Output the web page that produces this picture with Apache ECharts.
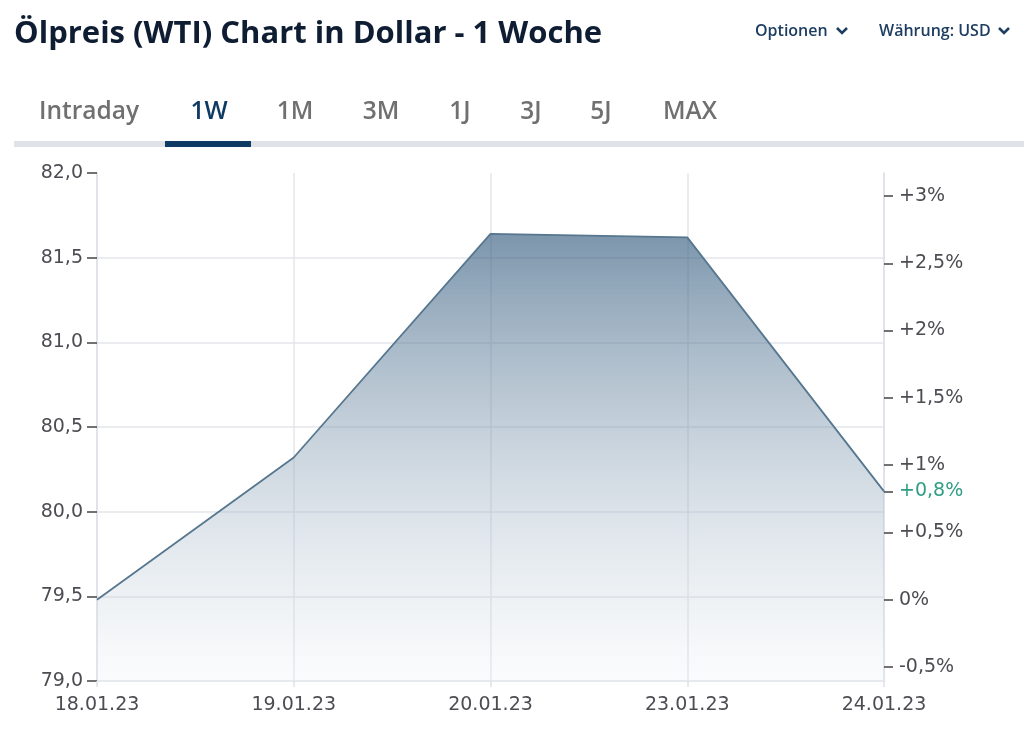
<!DOCTYPE html>
<html>
<head>
<meta charset="utf-8">
<script src="https://cdn.jsdelivr.net/npm/echarts@6/dist/echarts.min.js"></script>
<style>
html,body{margin:0;padding:0;background:#fff;}
#chart{width:1024px;height:746px;}
</style>
</head>
<body>
<div id="chart"></div>
<script>
const title = 'Ölpreis (WTI) Chart in Dollar - 1 Woche';
const tabs = ['Intraday', '1W', '1M', '3M', '1J', '3J', '5J', 'MAX'];
const dates = ['18.01.23', '19.01.23', '20.01.23', '23.01.23', '24.01.23'];
const prices = [79.48, 80.32, 81.64, 81.62, 80.12];
const priceTicks = [79.0, 79.5, 80.0, 80.5, 81.0, 81.5, 82.0];
const percentTicks = [-0.5, 0, 0.5, 1, 1.5, 2, 2.5, 3];

const base = prices[0];
const last = prices[prices.length - 1];
const rightValues = percentTicks.map(p => base * (1 + p / 100)).concat([last]);

function fmtPct(p) {
  const s = (Math.abs(p) < 1e-9 ? '0' : String(p)).replace('.', ',');
  return (p > 1e-9 ? '+' : '') + s + '%';
}

const chart = echarts.init(document.getElementById('chart'));
const LBL = 'Verdana, "DejaVu Sans"';
const tabX = [89, 209, 295, 381, 460, 531, 601, 690];

const graphics = [
  {type: 'text', x: 14, y: 34, style: {text: title, font: 'bold 31px "Open Sans"', fill: '#0f1d33', textVerticalAlign: 'middle'}},
  {type: 'text', x: 755, y: 31, style: {text: 'Optionen', font: '600 16px "Open Sans"', fill: '#1d3d62', textVerticalAlign: 'middle'}},
  {type: 'polyline', shape: {points: [[837, 28], [842, 33], [847, 28]]}, style: {stroke: '#1d3d62', lineWidth: 2.6, fill: null}},
  {type: 'text', x: 879, y: 31, style: {text: 'Währung: USD', font: '600 16px "Open Sans"', fill: '#1d3d62', textVerticalAlign: 'middle'}},
  {type: 'polyline', shape: {points: [[999, 28], [1004, 33], [1009, 28]]}, style: {stroke: '#1d3d62', lineWidth: 2.6, fill: null}},
  {type: 'rect', shape: {x: 14, y: 141, width: 1010, height: 6}, style: {fill: '#dfe2e7'}},
  {type: 'rect', shape: {x: 165, y: 141, width: 86, height: 6}, style: {fill: '#0e3a63'}}
];
tabs.forEach((t, i) => {
  graphics.push({type: 'text', x: tabX[i], y: 112, style: {
    text: t, font: '600 24.5px "Open Sans"', fill: i === 1 ? '#0e3a63' : '#707070',
    textAlign: 'center', textVerticalAlign: 'middle'}});
});

const option = {
  animation: false,
  graphic: graphics,
  grid: {left: 97, right: 140, top: 173, bottom: 65},
  xAxis: {
    type: 'category', data: dates, boundaryGap: false,
    axisLine: {lineStyle: {color: '#dde1e7', width: 1.5}},
    axisTick: {show: true, length: 6, lineStyle: {color: '#dde1e7', width: 1.5}},
    axisLabel: {color: '#4c4c52', fontSize: 19, margin: 15, fontFamily: LBL},
    splitLine: {show: true, lineStyle: {color: '#e3e6eb', width: 1.5}}
  },
  yAxis: [
    {
      type: 'value', min: 79, max: 82, interval: 0.5, position: 'left',
      axisLine: {show: true, lineStyle: {color: '#dde1e7', width: 1.5}},
      axisTick: {show: true, length: 10, lineStyle: {color: '#444', width: 1.5}},
      axisLabel: {color: '#4c4c52', fontSize: 19, margin: 14, fontFamily: LBL,
        formatter: v => v.toFixed(1).replace('.', ',')},
      splitLine: {show: true, showMaxLine: false, showMinLine: false, lineStyle: {color: '#e3e6eb', width: 1.5}}
    },
    {
      type: 'value', min: 79, max: 82, position: 'right',
      axisLine: {show: true, lineStyle: {color: '#dde1e7', width: 1.5}},
      axisTick: {show: true, length: 9, customValues: rightValues, lineStyle: {color: '#444', width: 1.5}},
      axisLabel: {
        customValues: rightValues, color: '#4c4c52', fontSize: 19, margin: 15, fontFamily: LBL,
        formatter: v => {
          const p = Math.round((v / base - 1) * 1000) / 10;
          if (Math.abs(v - last) < 1e-9) return '{g|' + fmtPct(p) + '}';
          return fmtPct(p);
        },
        rich: {g: {color: '#2f9e84', fontSize: 19, fontFamily: LBL}}
      },
      splitLine: {show: false}
    }
  ],
  series: [{
    type: 'line', data: prices, yAxisIndex: 0, symbol: 'none', smooth: false,
    lineStyle: {color: '#56778f', width: 1.8},
    areaStyle: {
      origin: 'start', opacity: 1,
      color: new echarts.graphic.LinearGradient(0, 0, 0, 1, [
        {offset: 0, color: 'rgba(50,90,125,0.64)'},
        {offset: 1, color: 'rgba(235,240,244,0.25)'}
      ])
    }
  }]
};
chart.setOption(option);
</script>
</body>
</html>
